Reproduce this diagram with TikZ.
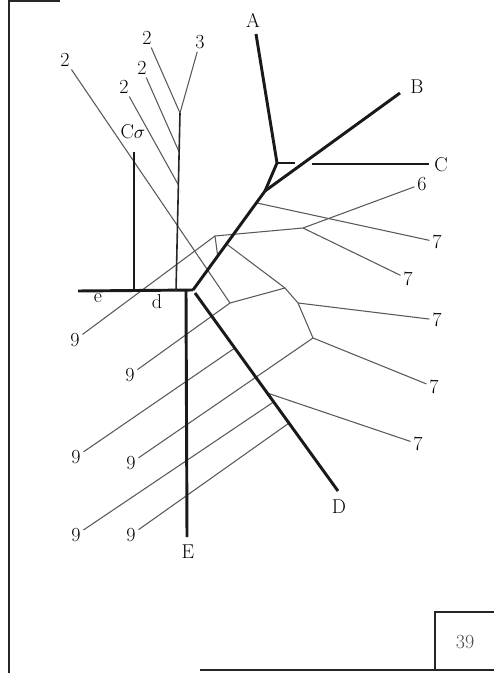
\documentclass[tikz,border=0pt]{standalone}
\usetikzlibrary{calc}
\begin{document}
\begin{tikzpicture}[x=0.75pt,y=-0.75pt,
  every node/.style={font=\fontsize{15}{17}\selectfont, inner sep=2pt, text=black},
  hv/.style={line width=2.2pt, black!90, line join=round},
  md/.style={line width=1.2pt, black!85},
  tw/.style={line width=0.8pt, black!65},
  fr/.style={line width=1.1pt, black!85}]
\useasboundingbox (0,0) rectangle (494,673);
% frame
\draw[fr] (9,0) -- (9,673);
\draw[fr] (9,1) -- (60,1);
\draw[fr] (200,670) -- (494,670);
\draw[fr] (435,670) -- (435,612) -- (494,612);
\node[text=black!70] (pg) at (465,642) {39};
% end points of the heavy lines
\coordinate (a0) at (256,34);
\coordinate (j1) at (277,163);
\coordinate (cs) at (295,163);
\coordinate (cb) at (312,164);
\coordinate (c0) at (429,164);
\coordinate (b0) at (400,93);
\coordinate (j2) at (265,191);
\coordinate (dp) at (193,290);
\coordinate (h0) at (78,291);
\coordinate (co0) at (134,152);
\coordinate (co1) at (134,291);
\coordinate (s0) at (180,113);
\coordinate (s1) at (176,291);
\coordinate (e0) at (186,291);
\coordinate (e1) at (187,537);
\coordinate (d0) at (195,293);
\coordinate (d1) at (338,491);
% junctions
\coordinate (sa) at ($(s0)!0.219!(s1)$);
\coordinate (sb) at ($(s0)!0.404!(s1)$);
\coordinate (k1) at ($(j2)!0.12!(dp)$);
\coordinate (k2) at ($(j2)!0.535!(dp)$);
\coordinate (k3) at ($(j2)!0.657!(dp)$);
\coordinate (q1) at ($(d0)!0.278!(d1)$);
\coordinate (q2) at ($(d0)!0.505!(d1)$);
\coordinate (q3) at ($(d0)!0.55!(d1)$);
\coordinate (q4) at ($(d0)!0.657!(d1)$);
\coordinate (m1) at (303,228);
\coordinate (m2) at (230,303);
\coordinate (m3) at (285,288);
\coordinate (m4) at (298,303);
\coordinate (m5) at (313,338);
\coordinate (p) at (215,236);
% labels
\node (lA) at (253,20) {A};
\node (lB) at (417,87) {B};
\node (lC) at (441,165) {C};
\node (lD) at (339,507) {D};
\node (lE) at (188,552) {E};
\node (lCo) at (133,132) {C$\sigma$};
\node (le) at (98,298) {e};
\node (ld) at (157,302) {d};
\node (t3) at (200,42) {3};
\node (t2a) at (147,38) {2};
\node (t2b) at (142,68) {2};
\node (t2c) at (124,87) {2};
\node (t2d) at (65,60) {2};
\node (s6) at (422,184) {6};
\node (s7a) at (437,242) {7};
\node (s7b) at (408,279) {7};
\node (s7c) at (437,320) {7};
\node (s7d) at (434,387) {7};
\node (s7e) at (418,444) {7};
\node (n9a) at (75,340) {9};
\node (n9b) at (130,375) {9};
\node (n9c) at (76,457) {9};
\node (n9d) at (131,463) {9};
\node (n9e) at (76,535) {9};
\node (n9f) at (131,535) {9};
% thin branches
\draw[tw] (t3) -- (s0);
\draw[tw] (t2a) -- (s0);
\draw[tw] (t2b) -- (sa);
\draw[tw] (t2c) -- (sb);
\draw[tw] (t2d) -- (m2);
\draw[tw] (k1) -- (s7a);
\draw[tw] (s6) -- (m1);
\draw[tw] (m1) -- (s7b);
\draw[tw] (m1) -- (p) -- (k3);
\draw[tw] (n9a) -- (p);
\draw[tw] (k2) -- (m3);
\draw[tw] (m2) -- (m3) -- (m4) -- (m5);
\draw[tw] (m4) -- (s7c);
\draw[tw] (m5) -- (s7d);
\draw[tw] (n9b) -- (m2);
\draw[tw] (n9c) -- (q1);
\draw[tw] (n9d) -- (m5);
\draw[tw] (q2) -- (s7e);
\draw[tw] (n9e) -- (q3);
\draw[tw] (n9f) -- (q4);
% heavy lines
\draw[hv] (a0) -- (j1) -- (j2);
\draw[hv] (b0) -- (j2) -- (dp);
\draw[hv] (j1) -- (cs);
\draw[hv] (cb) -- (c0);
\draw[hv] (h0) -- (dp);
\draw[hv] (co0) -- (co1);
\draw[md] (s0) -- (s1);
\draw[hv] (e0) -- (e1);
\draw[hv] (d0) -- (d1);
\end{tikzpicture}
\end{document}
